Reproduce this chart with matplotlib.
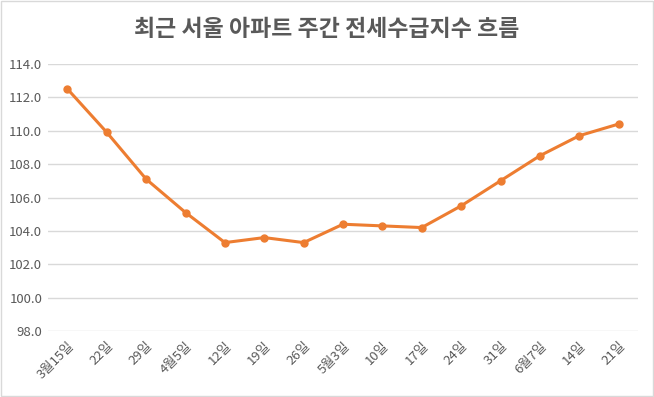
import matplotlib
matplotlib.use("Agg")
import matplotlib.pyplot as plt
from matplotlib.patches import Rectangle
from matplotlib.ticker import FormatStrFormatter

plt.rcParams['font.family'] = ['Noto Sans CJK KR', 'DejaVu Sans']

# Data
weeks = ['3월15일', '22일', '29일', '4월5일', '12일', '19일', '26일', '5월3일',
         '10일', '17일', '24일', '31일', '6월7일', '14일', '21일']
index_values = [112.5, 109.9, 107.1, 105.1, 103.3, 103.6, 103.3, 104.4,
                104.3, 104.2, 105.5, 107.0, 108.5, 109.7, 110.4]
y_ticks = [98, 100, 102, 104, 106, 108, 110, 112, 114]

text_color = '#595959'
grid_color = '#D9D9D9'
line_color = '#ED7D31'

fig = plt.figure(figsize=(6.54, 3.97), dpi=100)
ax = fig.add_axes([0.073, 0.166, 0.903, 0.673])

x = list(range(len(weeks)))
ax.plot(x, index_values, color=line_color, linewidth=2.2, marker='o',
        markersize=5, zorder=3)

ax.set_xlim(-0.5, len(weeks) - 0.5)
ax.set_ylim(98, 114)
ax.set_yticks(y_ticks)
ax.yaxis.set_major_formatter(FormatStrFormatter('%.1f'))
ax.set_xticks(x)
ax.set_xticklabels(weeks, rotation=45, ha='right', rotation_mode='anchor')

ax.grid(axis='y', color=grid_color, linewidth=1)
ax.set_axisbelow(True)
for s in ax.spines.values():
    s.set_visible(False)
ax.tick_params(axis='both', length=0, labelsize=9.5, colors=text_color)
ax.tick_params(axis='x', pad=6)
ax.tick_params(axis='y', pad=4)

fig.text(0.5, 0.925, '최근 서울 아파트 주간 전세수급지수 흐름', ha='center', va='center',
         fontsize=16.5, fontweight='bold', color=text_color)

fig.patches.append(Rectangle((0.001, 0.002), 0.997, 0.995, transform=fig.transFigure,
                             fill=False, edgecolor=grid_color, linewidth=1))

fig.savefig('out.png', dpi=100)
